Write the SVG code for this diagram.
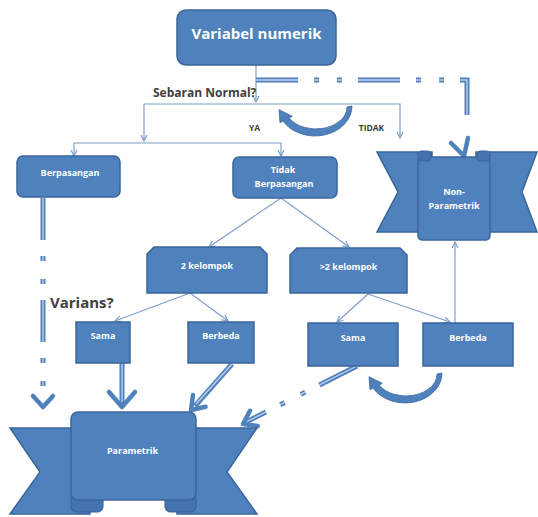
<svg xmlns="http://www.w3.org/2000/svg" width="538" height="517" viewBox="0 0 538 517">
<defs>
<style>
.box{fill:#4F81BD;stroke:#3A659B;stroke-width:1.5}
.tab{fill:#4474B0;stroke:#3A659B;stroke-width:1.2}
.lbl{font-family:"Open Sans","Liberation Sans",sans-serif;font-weight:bold;fill:#fff;text-anchor:middle;font-size:9px}
.q{font-family:"Open Sans","Liberation Sans",sans-serif;font-weight:bold;fill:#404040}
.thin{fill:none;stroke:#7E9FCC;stroke-width:1.2;marker-end:url(#ah)}
.thick{fill:none;stroke:#4F81BD;stroke-width:5}
.thin2{fill:none;stroke:#BCD0EA;stroke-width:1.4}
.dd{stroke-dasharray:42 16 5 18 5 16}
.chev{fill:none;stroke:#4F81BD;stroke-width:4.5;stroke-linecap:round;stroke-linejoin:round}
.curl{fill:#4F81BD;stroke:#3A659B;stroke-width:0.8}
</style>
<marker id="ah" viewBox="0 0 8 8" refX="7" refY="4" markerWidth="8" markerHeight="8" markerUnits="userSpaceOnUse" orient="auto">
<path d="M1,1 L7,4 L1,7" fill="none" stroke="#7E9FCC" stroke-width="1.2"/>
</marker>
<path id="curved" d="M37,0 A37,30 0 0 1 -32,15 L-35,16.75 L-36,3.7 L-22.8,10.25 L-25.85,12 A31,22 0 0 0 32,1 Z"/>
</defs>
<rect width="538" height="517" fill="#fff"/>

<g id="connectors">
<path class="thin" d="M256,65 V102"/>
<path class="thin" d="M144,104 H400 V138"/>
<path class="thin" d="M144,104 V141"/>
<path class="thin" d="M74,143 V156"/>
<path class="thin" d="M74,143 H281 V156"/>
<path class="thin" d="M281,198 L209,247"/>
<path class="thin" d="M281,198 L349,247"/>
<path class="thin" d="M190,293 L115,321"/>
<path class="thin" d="M190,293 L228,321"/>
<path class="thin" d="M368,294 L337,322"/>
<path class="thin" d="M368,294 L450,322"/>
<path class="thin" d="M455,323 V242"/>

<path class="thick dd" d="M256,80 H467 V115"/>
<path class="thin2 dd" d="M256,80 H467 V115"/>
<path class="chev" d="M451,143 L464,156 L468,138"/>

<path class="thick dd" d="M43,198 V402"/>
<path class="thin2 dd" d="M43,198 V402"/>
<path class="chev" d="M33,396 L43,407 L53,396"/>

<path class="thick" d="M122,363 V404"/>
<path class="thin2" d="M122,363 V402"/>
<path class="chev" d="M109,392 L122,407 L135,392"/>

<path class="thick" d="M232,364 L195,406"/>
<path class="thin2" d="M232,364 L196,404"/>
<path class="chev" d="M205.6,406.7 L191,410 L193,395"/>

<path class="thick dd" d="M357,366 L246,422"/>
<path class="thin2 dd" d="M357,366 L246,422"/>
<path class="chev" d="M257.8,426.1 L243,424 L250,410.8"/>

<use href="#curved" class="curl" transform="translate(315,106)"/>
<use href="#curved" class="curl" transform="translate(405,373)"/>
</g>

<g id="variabel-numerik">
<rect class="box" x="177" y="10" width="159" height="55" rx="9"/>
<text class="lbl" x="256.5" y="39" style="font-size:15px">Variabel numerik</text>
</g>

<g id="sebaran-normal">
<text class="q" x="153" y="97" style="font-size:12px">Sebaran Normal?</text>
<text class="q" x="254.5" y="131" text-anchor="middle" style="font-size:8.5px">YA</text>
<text class="q" x="371.5" y="131" text-anchor="middle" style="font-size:8.5px">TIDAK</text>
</g>

<g id="berpasangan">
<rect class="box" x="17" y="156" width="103" height="41" rx="6"/>
<text class="lbl" x="70" y="176">Berpasangan</text>
</g>

<g id="tidak-berpasangan">
<rect class="box" x="233" y="157" width="104" height="41" rx="6"/>
<text class="lbl" x="283" y="173">Tidak</text>
<text class="lbl" x="284" y="187">Berpasangan</text>
</g>

<g id="non-parametrik">
<path class="box" d="M377,152 H432 V232 H377 L398,192 Z"/>
<path class="box" d="M537,152 H476 V232 H537 L522,192 Z"/>
<rect class="box" x="418" y="157" width="72" height="83" rx="4"/>
<rect class="tab" x="418" y="151" width="13" height="10" rx="4"/>
<rect class="tab" x="477" y="151" width="13" height="10" rx="4"/>
<text class="lbl" x="454" y="195">Non-</text>
<text class="lbl" x="454" y="209">Parametrik</text>
</g>

<g id="dua-kelompok">
<path class="box" d="M154,247 H260 L267,254 V293 H147 V254 Z"/>
<text class="lbl" x="207" y="269">2 kelompok</text>
</g>

<g id="lebih-dua-kelompok">
<path class="box" d="M297,248 H400 L407,255 V293 H290 V255 Z"/>
<text class="lbl" x="348.5" y="270">&gt;2 kelompok</text>
</g>

<g id="varians">
<text class="q" x="50" y="308" style="font-size:15px">Varians?</text>
</g>

<g id="sama-kiri">
<rect class="box" x="76" y="322" width="54" height="41"/>
<text class="lbl" x="103" y="339">Sama</text>
</g>

<g id="berbeda-kiri">
<rect class="box" x="188" y="322" width="66" height="41"/>
<text class="lbl" x="221" y="339">Berbeda</text>
</g>

<g id="sama-kanan">
<rect class="box" x="308" y="323" width="90" height="43"/>
<text class="lbl" x="353" y="341">Sama</text>
</g>

<g id="berbeda-kanan">
<rect class="box" x="423" y="323" width="90" height="43"/>
<text class="lbl" x="468" y="341">Berbeda</text>
</g>

<g id="parametrik">
<path class="box" d="M10,428 H90 V514 H10 L40,472 Z"/>
<path class="box" d="M257,428 H177 V514 H257 L227,472 Z"/>
<rect class="tab" x="71" y="494" width="32" height="18" rx="6"/>
<rect class="tab" x="165" y="494" width="31" height="18" rx="6"/>
<rect class="box" x="71" y="412" width="125" height="88" rx="7"/>
<text class="lbl" x="132.5" y="454">Parametrik</text>
</g>
</svg>
